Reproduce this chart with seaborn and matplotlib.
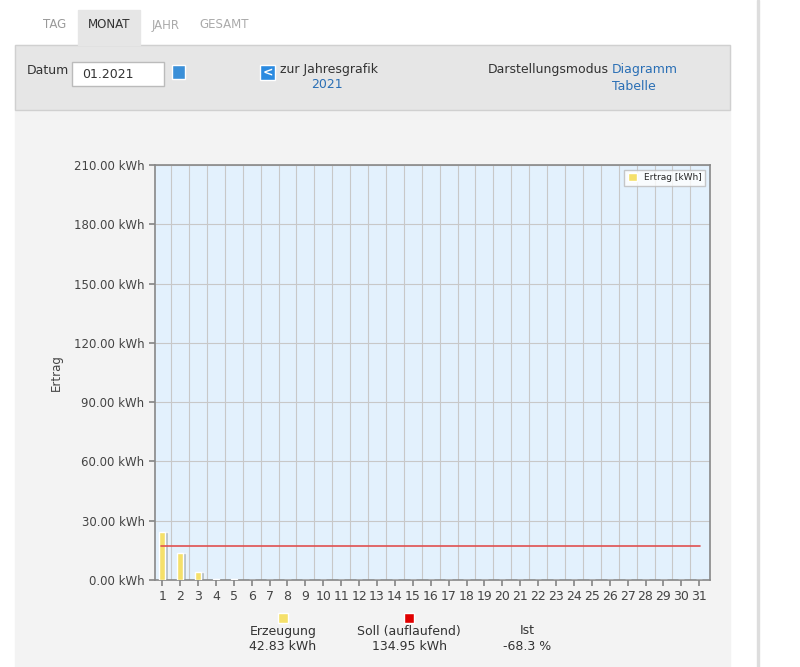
import matplotlib
matplotlib.use("Agg")
import matplotlib.pyplot as plt
import seaborn as sns
import numpy as np
import pandas as pd
from matplotlib.patches import Rectangle

days = list(range(1, 32))
ertrag = [24.2, 13.8, 4.0, 0.4, 0.3, 0.0, 0.13] + [0.0] * 24
soll_daily = 17.0
ytick_vals = [0, 30, 60, 90, 120, 150, 180, 210]
ytick_labels = [f"{v:.2f} kWh" for v in ytick_vals]

sns.set_theme(style="white")
plt.rcParams['font.family'] = ['DejaVu Sans']
fig = plt.figure(figsize=(8, 6.67), dpi=100)
W, H = 800, 667
def fx(x): return x / W
def fy(y): return 1 - y / H

# UI panels
fig.patches.append(Rectangle((fx(15), 0), fx(715), fy(45), transform=fig.transFigure, color="#f3f3f3", zorder=-5))
fig.patches.append(Rectangle((fx(15), fy(110)), fx(715), fy(45) - fy(110), transform=fig.transFigure, color="#e6e6e6", ec="#d0d0d0", zorder=-4))
fig.patches.append(Rectangle((fx(78), fy(45)), fx(62), fy(10) - fy(45), transform=fig.transFigure, color="#e6e6e6", zorder=-4))
fig.patches.append(Rectangle((fx(757), 0), fx(2), 1, transform=fig.transFigure, color="#dddddd", zorder=-4))
fig.text(fx(55), fy(25), "TAG", fontsize=8.5, color="#999999", ha="center", va="center")
fig.text(fx(109), fy(25), "MONAT", fontsize=8.5, color="#333333", ha="center", va="center")
fig.text(fx(166), fy(25), "JAHR", fontsize=8.5, color="#aaaaaa", ha="center", va="center")
fig.text(fx(224), fy(25), "GESAMT", fontsize=8.5, color="#aaaaaa", ha="center", va="center")
fig.text(fx(27), fy(70), "Datum", fontsize=9, color="#333333", va="center")
fig.patches.append(Rectangle((fx(72), fy(86)), fx(92), fy(62) - fy(86), transform=fig.transFigure, fc="white", ec="#bbbbbb", zorder=-3))
fig.text(fx(82), fy(74), "01.2021", fontsize=9, color="#333333", va="center")
fig.patches.append(Rectangle((fx(172), fy(79)), fx(13), fy(65) - fy(79), transform=fig.transFigure, fc="#3a8fd8", zorder=-3))
fig.patches.append(Rectangle((fx(260), fy(80)), fx(15), fy(65) - fy(80), transform=fig.transFigure, fc="#2a8ae0", zorder=-3))
fig.text(fx(268), fy(72.5), "<", fontsize=9, color="white", ha="center", va="center", weight="bold")
fig.text(fx(280), fy(69), "zur Jahresgrafik", fontsize=9, color="#333333", va="center")
fig.text(fx(327), fy(84), "2021", fontsize=9, color="#2a6fb5", ha="center", va="center")
fig.text(fx(488), fy(69), "Darstellungsmodus", fontsize=9, color="#333333", va="center")
fig.text(fx(612), fy(69), "Diagramm", fontsize=9, color="#2a6fb5", va="center")
fig.text(fx(612), fy(87), "Tabelle", fontsize=9, color="#2a6fb5", va="center")

# chart
ax = fig.add_axes([fx(155), fy(580), fx(710) - fx(155), fy(165) - fy(580)])
ax.set_zorder(10)
ax.set_facecolor("#e3f1fd")
df = pd.DataFrame({"day": days, "ertrag": ertrag})
shadow = [d + 0.15 for d in days]
ax.bar(shadow, ertrag, width=0.35, color="#9aa6ae", alpha=0.7, zorder=2)
sns.barplot(data=df, x="day", y="ertrag", ax=ax, native_scale=True, color="#f5e06a",
            width=0.35, saturation=1, zorder=3, label="Ertrag [kWh]")
ax.plot([0.95, 31.05], [soll_daily, soll_daily], color="#e05050", lw=1.2, zorder=4)
ax.set_xlim(0.6, 31.6)
ax.set_ylim(0, 210)
ax.set_xticks(days)
ax.set_xticklabels([str(d) for d in days], fontsize=9, color="#444444")
ax.set_yticks(ytick_vals)
ax.set_yticklabels(ytick_labels, fontsize=8.5, color="#444444")
ax.set_xticks([d + 0.5 for d in days[:-1]], minor=True)
ax.grid(True, which="major", axis="y", color="#c8c8c8", lw=0.8)
ax.grid(True, which="minor", axis="x", color="#c8c8c8", lw=0.8)
ax.set_axisbelow(True)
ax.tick_params(axis="both", which="major", length=4, color="#888888", direction="out", bottom=True, left=True)
ax.tick_params(axis="x", which="minor", length=0)
for s in ax.spines.values():
    s.set_color("#888888"); s.set_linewidth(1.2)
ax.set_xlabel("")
ax.set_ylabel("Ertrag", fontsize=8.5, color="#444444", labelpad=8)
leg = ax.legend(loc="upper right", fontsize=6.5, frameon=True, fancybox=False, handlelength=1, handleheight=1)
leg.get_frame().set_edgecolor("#bbbbbb")

# summary
for xc, col, t1, t2 in [(283, "#f5e06a", "Erzeugung", "42.83 kWh"),
                        (409, "#e00000", "Soll (auflaufend)", "134.95 kWh"),
                        (527, None, "Ist", "-68.3 %")]:
    if col:
        fig.patches.append(Rectangle((fx(xc - 5), fy(623)), fx(10), fy(613) - fy(623), transform=fig.transFigure, fc=col, zorder=-3))
    fig.text(fx(xc), fy(631), t1, fontsize=9, color="#333333", ha="center", va="center")
    fig.text(fx(xc), fy(646), t2, fontsize=9, color="#333333", ha="center", va="center")

fig.savefig("out.png", dpi=100, facecolor="white")
